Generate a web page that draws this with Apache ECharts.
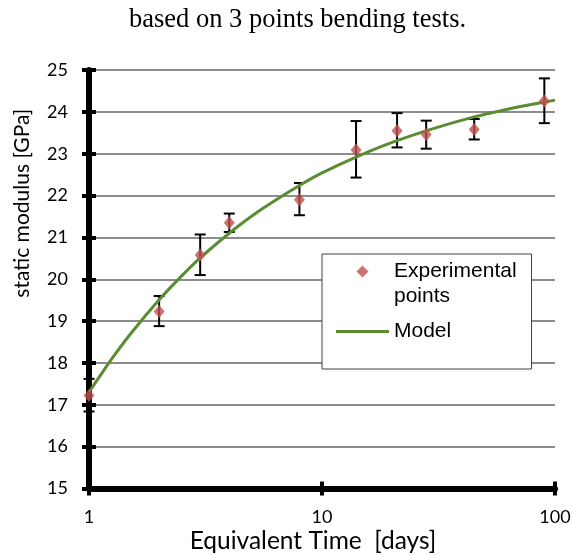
<!DOCTYPE html>
<html><head><meta charset="utf-8">
<script src="https://cdn.jsdelivr.net/npm/echarts@6/dist/echarts.min.js"></script>
<style>html,body{margin:0;padding:0;background:#fff}#c{width:572px;height:555px}</style>
</head><body><div id="c"></div>
<script>
const titleText = 'based on 3 points bending tests.';
const xAxisName = 'Equivalent Time  [days]';
const yAxisName = 'static modulus [GPa]';
const expName = 'Experimental\npoints';
const modelName = 'Model';

const expDays    = [1, 2, 3, 4, 8, 14, 21, 28, 45, 90];
const expModulus = [17.22, 19.23, 20.58, 21.35, 21.90, 23.09, 23.55, 23.46, 23.58, 24.26];
const errLow     = [16.84, 18.88, 20.10, 21.13, 21.53, 22.43, 23.15, 23.12, 23.34, 23.73];
const errHigh    = [17.62, 19.60, 21.07, 21.57, 22.30, 23.78, 23.97, 23.79, 23.83, 24.80];

const modelDays    = [1, 1.25, 1.5, 2, 2.5, 3, 4, 5, 6, 8, 10, 14, 20, 30, 45, 60, 80, 100];
const modelModulus = [17.30, 18.09, 18.68, 19.51, 20.08, 20.51, 21.10, 21.51, 21.81, 22.24, 22.54, 22.92, 23.27, 23.60, 23.88, 24.04, 24.18, 24.28];

const yMin = 15, yMax = 25, yStep = 1;
const xMin = 1, xMax = 100;

const chart = echarts.init(document.getElementById('c'), null, {renderer: 'canvas'});

const expData = expDays.map((d, i) => [d, expModulus[i]]);
const errData = expDays.map((d, i) => [d, errLow[i], errHigh[i]]);
const modelData = modelDays.map((d, i) => [d, modelModulus[i]]);

const tickFont = {fontFamily: 'Lato', fontSize: 18, color: '#000'};

chart.setOption({
  animation: false,
  backgroundColor: '#fff',
  title: {
    text: titleText, left: 129, top: 7, padding: 0,
    textStyle: {fontFamily: 'Liberation Serif', fontSize: 26.5, fontWeight: 'normal', color: '#000'}
  },
  grid: {left: 89, right: 17, top: 70, bottom: 66.5, containLabel: false, outerBoundsMode: 'none'},
  legend: {
    orient: 'vertical', left: 322, top: 254,
    data: [
      {name: expName, icon: 'path://M6,0L12,6L6,12L0,6Z M6,37'},
      {name: modelName, icon: 'path://M0,17L53,17L53,20L0,20Z M0,0 M0,37'}
    ],
    itemWidth: 53, itemHeight: 37, itemGap: 4,
    padding: [5, 15, 19, 14],
    backgroundColor: '#fff', borderColor: '#404040', borderWidth: 1,
    selectedMode: false,
    textStyle: {fontFamily: 'Liberation Sans', fontSize: 21, lineHeight: 25, color: '#000'}
  },
  xAxis: [{
    type: 'log', logBase: 10, min: xMin, max: xMax,
    name: xAxisName, nameLocation: 'middle', nameGap: 40, nameMoveOverlap: false,
    nameTextStyle: {fontFamily: 'Lato', fontSize: 24.5, color: '#000', padding: [0, 18, 0, 0]},
    axisLine: {show: true, lineStyle: {color: '#000', width: 6}},
    axisTick: {show: true, length: 7, lineStyle: {color: '#000', width: 4}},
    minorTick: {show: false},
    axisLabel: Object.assign({margin: 20}, tickFont),
    splitLine: {show: false}
  }, {
    type: 'log', logBase: 10, min: xMin, max: xMax, position: 'bottom',
    axisLine: {show: false},
    axisTick: {show: true, inside: true, length: 7, lineStyle: {color: '#000', width: 4}},
    axisLabel: {show: false}, splitLine: {show: false}
  }],
  yAxis: [{
    type: 'value', min: yMin, max: yMax, interval: yStep,
    name: yAxisName, nameLocation: 'middle', nameRotate: 90, nameGap: 56, nameMoveOverlap: false,
    nameTextStyle: {fontFamily: 'Lato', fontSize: 21, color: '#000', padding: [0, 0, 0, 152]},
    axisLine: {show: true, lineStyle: {color: '#000', width: 6}},
    axisTick: {show: true, length: 7, lineStyle: {color: '#000', width: 4}},
    axisLabel: Object.assign({margin: 21}, tickFont),
    splitLine: {show: true, lineStyle: {color: '#8c8c8c', width: 2}}
  }, {
    type: 'value', min: yMin, max: yMax, interval: yStep, position: 'left',
    axisLine: {show: false},
    axisTick: {show: true, inside: true, length: 7, lineStyle: {color: '#000', width: 4}},
    axisLabel: {show: false}, splitLine: {show: false}
  }],
  series: [{
    name: 'error', type: 'custom', xAxisIndex: 0, yAxisIndex: 0,
    data: errData, encode: {x: 0, y: [1, 2]}, z: 3,
    renderItem: function (params, api) {
      const x = api.value(0);
      const pLo = api.coord([x, api.value(1)]);
      const pHi = api.coord([x, api.value(2)]);
      const hw = 5.5;
      const st = {stroke: '#000', lineWidth: 2};
      return {type: 'group', children: [
        {type: 'line', shape: {x1: pLo[0], y1: pLo[1], x2: pHi[0], y2: pHi[1]}, style: st},
        {type: 'line', shape: {x1: pLo[0] - hw, y1: pLo[1], x2: pLo[0] + hw, y2: pLo[1]}, style: st},
        {type: 'line', shape: {x1: pHi[0] - hw, y1: pHi[1], x2: pHi[0] + hw, y2: pHi[1]}, style: st}
      ]};
    }
  }, {
    name: modelName, type: 'line', data: modelData, smooth: 0.3,
    symbol: 'none', showSymbol: false, z: 4,
    itemStyle: {color: '#5a8c32'},
    lineStyle: {color: '#5a8c32', width: 3}
  }, {
    name: expName, type: 'scatter', data: expData, z: 5,
    symbol: 'diamond', symbolSize: [11, 13],
    itemStyle: {color: '#c0504d'}
  }]
});
</script>
</body></html>
